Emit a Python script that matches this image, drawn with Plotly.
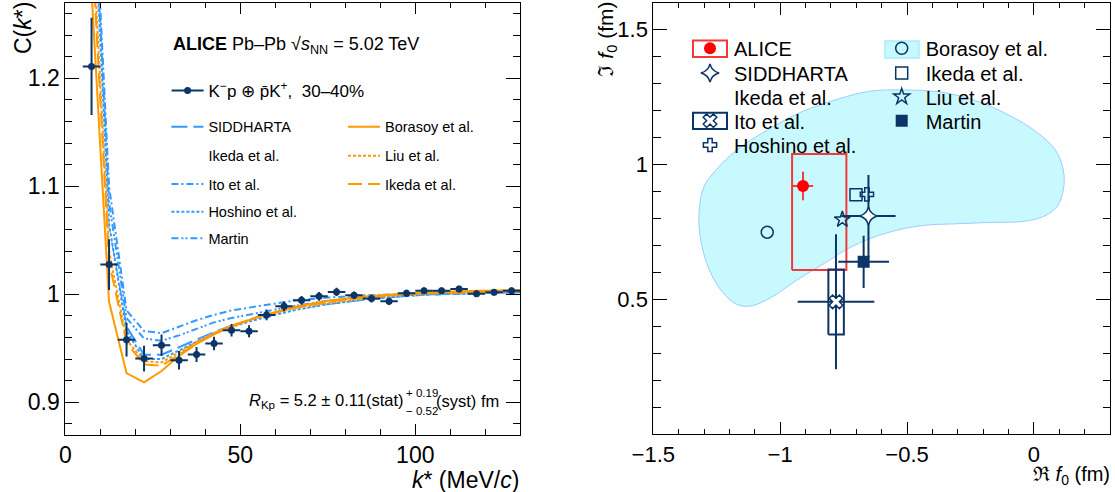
import plotly.graph_objects as go

W, H = 1115, 492
FONT = "Liberation Sans, Arial, Helvetica, sans-serif"
NAVY = "#0A3566"
BLUE = "#3399FF"
ORANGE = "#FF9900"
RED = "#FF0000"

# ---------------- Left panel: correlation function ----------------
kstar = [7.5, 12.5, 17.5, 22.5, 27.5, 32.5, 37.5, 42.5, 47.5, 52.5, 57.5, 62.5, 67.5,
         72.5, 77.5, 82.5, 87.5, 92.5, 97.5, 102.5, 107.5, 112.5, 117.5, 122.5, 127.5]
ck = [1.211, 1.0275, 0.958, 0.9405, 0.9528, 0.9389, 0.9442, 0.9544, 0.9667, 0.9658,
      0.9809, 0.9889, 0.9944, 0.9981, 1.0022, 0.9991, 0.9960, 0.9935, 1.0009, 1.0034,
      1.0034, 1.0050, 1.0005, 1.0020, 1.0033]
ck_err = [0.045, 0.0235, 0.0157, 0.0119, 0.010, 0.0085, 0.007, 0.0063, 0.0058, 0.0055,
          0.005, 0.0045, 0.004, 0.004, 0.0038, 0.0035, 0.0035, 0.0033, 0.0033, 0.003,
          0.003, 0.003, 0.003, 0.003, 0.003]
KSTAR_HALF_BIN = 2.5

model_k = [2.5, 7.5, 12.5, 17.5, 22.5, 27.5, 32.5, 37.5, 42.5, 47.5, 55, 65, 75, 85, 95, 105, 115, 130]
c_siddharta = [1.74, 1.40, 1.060, 0.970, 0.944, 0.944, 0.951, 0.958, 0.965, 0.971, 0.978, 0.986, 0.991, 0.995, 0.998, 1.000, 1.001, 1.002]
c_ikeda_blue = [1.74, 1.40, 1.055, 0.962, 0.938, 0.938, 0.947, 0.956, 0.964, 0.970, 0.978, 0.986, 0.992, 0.996, 0.999, 1.000, 1.001, 1.002]
c_ito = [1.76, 1.43, 1.100, 0.985, 0.966, 0.964, 0.970, 0.976, 0.981, 0.985, 0.989, 0.994, 0.997, 0.999, 1.000, 1.001, 1.001, 1.002]
c_hoshino = [1.75, 1.41, 1.065, 0.966, 0.940, 0.940, 0.948, 0.956, 0.964, 0.970, 0.977, 0.985, 0.991, 0.995, 0.998, 1.000, 1.001, 1.002]
c_martin = [1.75, 1.42, 1.085, 0.978, 0.959, 0.957, 0.962, 0.968, 0.974, 0.978, 0.983, 0.989, 0.994, 0.997, 0.999, 1.000, 1.001, 1.002]
c_borasoy = [1.55, 1.28, 0.993, 0.927, 0.9185, 0.929, 0.943, 0.954, 0.963, 0.970, 0.979, 0.988, 0.994, 0.998, 1.000, 1.002, 1.003, 1.004]
c_liu = [1.66, 1.35, 1.040, 0.958, 0.938, 0.937, 0.946, 0.956, 0.964, 0.971, 0.979, 0.987, 0.992, 0.996, 0.999, 1.001, 1.002, 1.003]
c_ikeda_orange = [1.63, 1.33, 1.030, 0.955, 0.935, 0.934, 0.944, 0.955, 0.964, 0.971, 0.979, 0.987, 0.993, 0.997, 1.000, 1.001, 1.002, 1.003]

left_xticks = [0, 50, 100]
left_yticks = [0.9, 1.0, 1.1, 1.2]

# ---------------- Right panel: scattering length ----------------
alice_re, alice_im = [-0.910], [0.920]
alice_re_stat, alice_im_stat = [0.040], [0.053]
alice_re_syst = [-0.953, -0.739]
alice_im_syst = [0.609, 1.039]

sidd_re, sidd_im = [-0.652], [0.809]
sidd_re_err, sidd_im_err = [0.107], [0.152]

ito_re, ito_im = [-0.780], [0.491]
ito_re_err, ito_im_err = [0.151], [0.250]
ito_re_syst = [-0.810, -0.749]
ito_im_syst = [0.370, 0.611]

hoshino_re, hoshino_im = [-0.658], [0.889]
ikeda_re, ikeda_im = [-0.701], [0.888]
liu_re, liu_im = [-0.755], [0.796]
martin_re, martin_im = [-0.671], [0.639]
martin_re_err, martin_im_err = [0.100], [0.097]
borasoy_re, borasoy_im = [-1.051], [0.749]

borasoy_region_re = [-0.648, -0.513, -0.366, -0.231, -0.097, 0.011, 0.085, 0.116, 0.116, 0.091,
                     0.038, -0.043, -0.177, -0.312, -0.446, -0.581, -0.715, -0.823, -0.930, -1.038,
                     -1.118, -1.172, -1.226, -1.280, -1.313, -1.320, -1.300, -1.253, -1.172, -1.051,
                     -0.917, -0.769, -0.648]
borasoy_region_im = [1.271, 1.276, 1.268, 1.237, 1.182, 1.120, 1.053, 0.979, 0.905, 0.844,
                     0.807, 0.789, 0.785, 0.780, 0.773, 0.746, 0.697, 0.635, 0.574, 0.506,
                     0.475, 0.482, 0.525, 0.611, 0.721, 0.819, 0.918, 0.979, 1.053, 1.127,
                     1.194, 1.243, 1.271]

right_xticks = [-1.5, -1.0, -0.5, 0.0]
right_yticks = [0.5, 1.0, 1.5]

# ---------------------------------------------------------------
fig = go.Figure()
legends = {}


def px_x(p):
    return p / W


def px_y(p):
    return 1 - p / H


def add_legend(name, px, py, size, itemwidth):
    legends[name] = dict(x=px_x(px), y=px_y(py), xanchor="left", yanchor="middle",
                         bgcolor="rgba(0,0,0,0)", borderwidth=0,
                         font=dict(family=FONT, size=size, color="black"),
                         itemwidth=itemwidth, tracegroupgap=0)


# left panel legends
add_legend("legend", 166.6, 91, 17, 32)
for i, row in enumerate([126.7, 155.7, 184, 211.7, 238.3]):
    add_legend("legend%d" % (i + 2), 166.4, row, 14.5, 32)
for i, row in enumerate([126.7, 155.7, 184]):
    add_legend("legend%d" % (i + 7), 343, row, 14.5, 32)
# right panel legends
for i, row in enumerate([48.3, 73, 96.7, 120.7, 145]):
    add_legend("legend%d" % (i + 10), 686, row, 20, 38)
for i, row in enumerate([48.3, 73, 96.7, 120.7]):
    add_legend("legend%d" % (i + 15), 877.7, row, 20, 38)

models = [
    ("SIDDHARTA", c_siddharta, BLUE, "16px,6px", "legend2"),
    ("Ikeda et al.", c_ikeda_blue, "white", "solid", "legend3"),
    ("Ito et al.", c_ito, BLUE, "7px,3px,2px,3px", "legend4"),
    ("Hoshino et al.", c_hoshino, BLUE, "3px,2px", "legend5"),
    ("Martin", c_martin, BLUE, "7px,3px,2px,2px,2px,3px", "legend6"),
    ("Borasoy et al.", c_borasoy, ORANGE, "solid", "legend7"),
    ("Liu et al.", c_liu, ORANGE, "3px,2px", "legend8"),
    ("Ikeda et al.", c_ikeda_orange, ORANGE, "14px,6px", "legend9"),
]
for name, vals, color, dash, leg in models:
    fig.add_trace(go.Scatter(x=model_k, y=vals, mode="lines", name=name, legend=leg,
                             line=dict(color=color, width=2, dash=dash),
                             xaxis="x", yaxis="y"))

fig.add_trace(go.Scatter(
    x=kstar, y=ck, mode="markers", showlegend=False, xaxis="x", yaxis="y",
    marker=dict(color=NAVY, size=7),
    error_x=dict(type="constant", value=KSTAR_HALF_BIN, color=NAVY, thickness=2, width=0),
    error_y=dict(type="data", array=ck_err, color=NAVY, thickness=2, width=0)))
fig.add_trace(go.Scatter(
    x=[None], y=[None], mode="lines+markers", legend="legend", xaxis="x", yaxis="y",
    name="K<sup>−</sup>p ⊕ p\u0304K<sup>+</sup>,  30–40%",
    marker=dict(color=NAVY, size=7), line=dict(color=NAVY, width=2)))

# ---------------- right panel traces ----------------
fig.add_trace(go.Scatter(
    x=borasoy_region_re, y=borasoy_region_im, mode="lines", fill="toself",
    fillcolor="#C8F9FF", line=dict(color="#9CCBFF", width=1, shape="spline", smoothing=1),
    showlegend=False, xaxis="x2", yaxis="y2", hoverinfo="skip"))


def box(xr, yr):
    return ([xr[0], xr[1], xr[1], xr[0], xr[0]], [yr[0], yr[0], yr[1], yr[1], yr[0]])


bx, by = box(alice_re_syst, alice_im_syst)
fig.add_trace(go.Scatter(x=bx, y=by, mode="lines", line=dict(color="#F03A3A", width=2),
                         showlegend=False, xaxis="x2", yaxis="y2"))
bx, by = box(ito_re_syst, ito_im_syst)
fig.add_trace(go.Scatter(x=bx, y=by, mode="lines", line=dict(color=NAVY, width=2),
                         showlegend=False, xaxis="x2", yaxis="y2"))


def err(arr, color, th=2):
    return dict(type="data", array=arr, color=color, thickness=th, width=0)


fig.add_trace(go.Scatter(x=borasoy_re, y=borasoy_im, mode="markers", name="Borasoy et al.",
                         legend="legend15", xaxis="x2", yaxis="y2",
                         marker=dict(symbol="circle-open", size=12, color=NAVY, line=dict(width=1.5))))
fig.add_trace(go.Scatter(x=ito_re, y=ito_im, mode="markers", name="Ito et al.", legend="legend13",
                         xaxis="x2", yaxis="y2",
                         error_x=err(ito_re_err, NAVY), error_y=err(ito_im_err, NAVY),
                         marker=dict(symbol="x", size=12, color="white", line=dict(color=NAVY, width=1.5))))
fig.add_trace(go.Scatter(x=martin_re, y=martin_im, mode="markers", name="Martin", legend="legend18",
                         xaxis="x2", yaxis="y2",
                         error_x=err(martin_re_err, NAVY), error_y=err(martin_im_err, NAVY),
                         marker=dict(symbol="square", size=12, color=NAVY)))
fig.add_trace(go.Scatter(x=sidd_re, y=sidd_im, mode="markers", name="SIDDHARTA", legend="legend11",
                         xaxis="x2", yaxis="y2",
                         error_x=err(sidd_re_err, NAVY), error_y=err(sidd_im_err, NAVY),
                         marker=dict(symbol="star-diamond", size=13, color="white", line=dict(color=NAVY, width=1.5))))
fig.add_trace(go.Scatter(x=[None], y=[None], mode="markers", name="Ikeda et al.", legend="legend12",
                         xaxis="x2", yaxis="y2",
                         marker=dict(symbol="circle", size=10, color="rgba(0,0,0,0)")))
fig.add_trace(go.Scatter(x=ikeda_re, y=ikeda_im, mode="markers", name="Ikeda et al.", legend="legend16",
                         xaxis="x2", yaxis="y2",
                         marker=dict(symbol="square-open", size=12, color=NAVY, line=dict(width=1.5))))
fig.add_trace(go.Scatter(x=hoshino_re, y=hoshino_im, mode="markers", name="Hoshino et al.", legend="legend14",
                         xaxis="x2", yaxis="y2",
                         marker=dict(symbol="cross-open", size=11, color=NAVY, line=dict(width=1.5))))
fig.add_trace(go.Scatter(x=liu_re, y=liu_im, mode="markers", name="Liu et al.", legend="legend17",
                         xaxis="x2", yaxis="y2",
                         marker=dict(symbol="star-open", size=12, color=NAVY, line=dict(width=1.5))))
fig.add_trace(go.Scatter(x=alice_re, y=alice_im, mode="markers", name="ALICE", legend="legend10",
                         xaxis="x2", yaxis="y2",
                         error_x=err(alice_re_stat, RED, 1.5), error_y=err(alice_im_stat, RED, 1.5),
                         marker=dict(symbol="circle", size=12, color=RED)))

# legend key boxes (decoration of legend entries)
shapes = [
    dict(type="rect", xref="paper", yref="paper", x0=px_x(693), x1=px_x(727), y0=px_y(57), y1=px_y(40.5),
         line=dict(color="#F03A3A", width=2), fillcolor="rgba(0,0,0,0)", layer="below"),
    dict(type="rect", xref="paper", yref="paper", x0=px_x(693), x1=px_x(727), y0=px_y(129), y1=px_y(112.7),
         line=dict(color=NAVY, width=2), fillcolor="rgba(0,0,0,0)", layer="below"),
    dict(type="rect", xref="paper", yref="paper", x0=px_x(885), x1=px_x(919), y0=px_y(58), y1=px_y(41),
         line=dict(color="#A6EEFA", width=1.5), fillcolor="#C8F9FF", layer="below"),
]

axis_common = dict(showline=True, linecolor="black", linewidth=1, mirror="ticks", ticks="inside",
                   tickcolor="black", tickwidth=1, showgrid=False, zeroline=False, automargin=False)


def minor(dt, ln):
    return dict(dtick=dt, tick0=0, ticklen=ln, ticks="inside", tickcolor="black", tickwidth=1, showgrid=False)


tf_left = dict(family=FONT, size=23, color="black")
tf_right = dict(family=FONT, size=22, color="black")


def tfont(size):
    return dict(family=FONT, size=size, color="black")


annotations = [
    dict(text="<b>ALICE</b> Pb–Pb √<i>s</i><sub>NN</sub> = 5.02 TeV", x=px_x(171), y=px_y(45.5),
         xanchor="left", yanchor="middle", font=tfont(18)),
    dict(text="<i>R</i><sub>Kp</sub> = 5.2 ± 0.11(stat)", x=px_x(406), y=px_y(401),
         xanchor="right", yanchor="middle", font=tfont(16.5)),
    dict(text="+ 0.19", x=px_x(404), y=px_y(393), xanchor="left", yanchor="middle", font=tfont(11.5)),
    dict(text="− 0.52", x=px_x(404), y=px_y(411), xanchor="left", yanchor="middle", font=tfont(11.5)),
    dict(text="(syst) fm", x=px_x(434), y=px_y(401), xanchor="left", yanchor="middle", font=tfont(16.5)),
    dict(text="C(<i>k</i>*)", x=px_x(23), y=px_y(0), textangle=-90, xanchor="center", yanchor="top",
         font=tfont(23)),
    dict(text="<i>k</i>* (MeV/<i>c</i>)", x=px_x(521), y=px_y(480), xanchor="right", yanchor="middle",
         font=tfont(23)),
    dict(text="ℑ <i>f</i><sub>0</sub> (fm)", x=px_x(606), y=px_y(0), textangle=-90, xanchor="center",
         yanchor="top", font=tfont(21)),
    dict(text="ℜ <i>f</i><sub>0</sub> (fm)", x=px_x(1112), y=px_y(475), xanchor="right", yanchor="middle",
         font=tfont(20)),
]
for a in annotations:
    a.update(xref="paper", yref="paper", showarrow=False)

fig.update_layout(
    width=W, height=H, autosize=False,
    margin=dict(l=0, r=0, t=0, b=0),
    paper_bgcolor="white", plot_bgcolor="rgba(0,0,0,0)",
    font=dict(family=FONT, color="black"),
    xaxis=dict(domain=[px_x(65.3), px_x(520.3)], range=[0, 130], anchor="y",
               tickmode="array", tickvals=left_xticks, ticklen=11, minor=minor(10, 5.5),
               tickfont=tf_left, **axis_common),
    yaxis=dict(domain=[px_y(434.7), px_y(2.7)], range=[0.87, 1.27], anchor="x",
               tickmode="array", tickvals=left_yticks, ticklen=14, minor=minor(0.02, 7),
               tickfont=tf_left, **axis_common),
    xaxis2=dict(domain=[px_x(653.3), px_x(1110)], range=[-1.5, 0.3], anchor="y2",
                tickmode="array", tickvals=right_xticks, ticklen=12, minor=minor(0.1, 5.5),
                tickfont=tf_right, **axis_common),
    yaxis2=dict(domain=[px_y(434.3), px_y(2.5)], range=[0, 1.6], anchor="x2",
                tickmode="array", tickvals=right_yticks, ticklen=14, minor=minor(0.1, 7.5),
                tickfont=tf_right, **axis_common),
    shapes=shapes,
    annotations=annotations,
    **legends,
)

fig.write_html("out.html", config={"displayModeBar": False},
               post_script="document.body.style.margin='0';document.body.style.padding='0';")
